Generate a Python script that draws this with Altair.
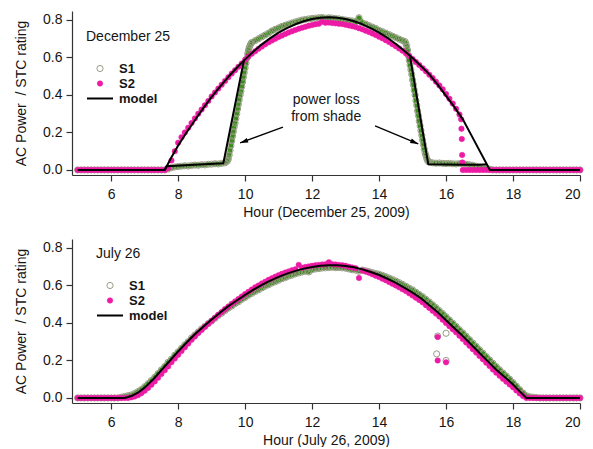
import altair as alt
import pandas as pd

# ---------------------------------------------------------------- data ----
# Logged readings every 6 minutes from 05:00 to 20:00
HOURS = [round(5 + 0.1 * i, 1) for i in range(151)]

# December 25 -- S1 (shaded morning and afternoon)
S1_DEC = [
    0, 0, 0, 0, 0, 0, 0, 0, 0, 0,
    0, 0, 0, 0, 0, 0, 0, 0, 0, 0,
    0, 0, 0, 0, 0, 0, 0, 0.005, 0.012, 0.016,
    0.018, 0.02, 0.022, 0.021, 0.024, 0.026, 0.025, 0.028, 0.027, 0.03,
    0.031, 0.033, 0.032, 0.035, 0.038, 0.06, 0.155, 0.25, 0.35, 0.445,
    0.545, 0.64, 0.68, 0.69, 0.70, 0.71, 0.72, 0.73, 0.742, 0.75,
    0.758, 0.766, 0.772, 0.778, 0.784, 0.79, 0.795, 0.80, 0.803, 0.806,
    0.808, 0.81, 0.812, 0.813, 0.81, 0.812, 0.81, 0.808, 0.806, 0.803,
    0.80, 0.797, 0.795, 0.79, 0.812, 0.785, 0.778, 0.77, 0.762, 0.755,
    0.745, 0.738, 0.73, 0.722, 0.714, 0.706, 0.698, 0.69, 0.675, 0.585,
    0.48, 0.37, 0.26, 0.16, 0.075, 0.042, 0.038, 0.036, 0.037, 0.035,
    0.034, 0.035, 0.033, 0.032, 0.034, 0.031, 0.03, 0.028, 0.025, 0.02,
    0.016, 0.012, 0.008, 0.004, 0, 0, 0, 0, 0, 0,
    0, 0, 0, 0, 0, 0, 0, 0, 0, 0,
    0, 0, 0, 0, 0, 0, 0, 0, 0, 0,
    0,
]
# extra S1 readings on the steep shade edges
S1_DEC_EDGE_H = [
    9.45, 9.475, 9.525, 9.55, 9.575, 9.625, 9.65, 9.675, 9.725, 9.75, 9.775,
    9.825, 9.85, 9.875, 9.925, 9.95, 9.975, 10.025, 10.05, 10.075, 10.125,
    10.15, 10.175,
    14.775, 14.825, 14.85, 14.875, 14.925, 14.95, 14.975, 15.025, 15.05,
    15.075, 15.125, 15.15, 15.175, 15.225, 15.25, 15.275, 15.325, 15.35,
    15.375, 15.425, 15.45, 15.475,
]
S1_DEC_EDGE_V = [
    0.045, 0.05, 0.08, 0.105, 0.13, 0.18, 0.205, 0.23, 0.275, 0.30, 0.325,
    0.375, 0.40, 0.42, 0.47, 0.495, 0.52, 0.57, 0.595, 0.62, 0.655,
    0.665, 0.675,
    0.685, 0.66, 0.64, 0.61, 0.56, 0.535, 0.51, 0.455, 0.425,
    0.40, 0.345, 0.315, 0.29, 0.235, 0.21, 0.185, 0.135, 0.11,
    0.09, 0.06, 0.05, 0.045,
]

# December 25 -- S2 (unshaded until late afternoon)
S2_DEC = [
    0, 0, 0, 0, 0, 0, 0, 0, 0, 0,
    0, 0, 0, 0, 0, 0, 0, 0, 0, 0,
    0, 0, 0, 0, 0, 0, 0, 0.01, 0.05, 0.10,
    0.145, 0.175, 0.2, 0.225, 0.25, 0.275, 0.30, 0.322, 0.345, 0.368,
    0.392, 0.413, 0.434, 0.455, 0.475, 0.495, 0.514, 0.532, 0.55, 0.568,
    0.588, 0.605, 0.62, 0.633, 0.646, 0.658, 0.67, 0.681, 0.691, 0.70,
    0.709, 0.717, 0.725, 0.733, 0.74, 0.747, 0.753, 0.759, 0.764, 0.769,
    0.773, 0.777, 0.78, 0.79, 0.785, 0.786, 0.784, 0.782, 0.78, 0.778,
    0.775, 0.771, 0.767, 0.762, 0.756, 0.75, 0.743, 0.736, 0.728, 0.72,
    0.711, 0.702, 0.692, 0.682, 0.671, 0.66, 0.648, 0.636, 0.622, 0.608,
    0.592, 0.576, 0.56, 0.543, 0.526, 0.508, 0.49, 0.471, 0.451, 0.43,
    0.405, 0.38, 0.354, 0.326, 0.296, 0, 0, 0, 0, 0,
    0, 0, 0, 0, 0, 0, 0, 0, 0, 0,
    0, 0, 0, 0, 0, 0, 0, 0, 0, 0,
    0, 0, 0, 0, 0, 0, 0, 0, 0, 0,
    0,
]
S2_DEC_DROP_H = [16.45, 16.46, 16.47, 16.48, 16.49]
S2_DEC_DROP_V = [0.27, 0.22, 0.165, 0.08, 0.04]

# December 25 -- model, unshaded array
MODEL_DEC_H = [5.0, 7.6, 7.8, 8.0, 8.25, 8.5, 8.75, 9.0, 9.25, 9.5, 9.75,
               10.0, 10.25, 10.5, 10.75, 11.0, 11.25, 11.5, 11.75, 12.0,
               12.25, 12.5, 12.75, 13.0, 13.25, 13.5, 13.75, 14.0, 14.25,
               14.5, 14.75, 15.0, 15.25, 15.5, 15.75, 16.0, 16.25, 16.5,
               16.75, 17.0, 17.31, 20.0]
MODEL_DEC_V = [0, 0, 0.068, 0.13, 0.2, 0.265, 0.33, 0.39, 0.445, 0.497, 0.545,
               0.59, 0.632, 0.67, 0.703, 0.733, 0.757, 0.777, 0.793, 0.805,
               0.812, 0.815, 0.812, 0.805, 0.793, 0.777, 0.757, 0.733, 0.705,
               0.672, 0.636, 0.597, 0.555, 0.51, 0.455, 0.395, 0.335, 0.27,
               0.187, 0.103, 0, 0]
# model with shading, morning and afternoon
SHADE_AM_H = [7.6, 7.65, 8.5, 9.35, 9.97]
SHADE_AM_V = [0, 0.02, 0.028, 0.036, 0.59]
SHADE_PM_H = [14.92, 15.47, 16.0, 16.5, 17.0, 17.22]
SHADE_PM_V = [0.61, 0.03, 0.029, 0.028, 0.028, 0.03]

# July 26 -- S1
S1_JUL = [
    0, 0, 0, 0, 0, 0, 0, 0, 0, 0,
    0, 0, 0, 0.004, 0.008, 0.012, 0.016, 0.024, 0.034, 0.045,
    0.06, 0.076, 0.093, 0.11, 0.13, 0.15, 0.168, 0.19, 0.207, 0.228,
    0.246, 0.265, 0.284, 0.30, 0.32, 0.336, 0.352, 0.368, 0.382, 0.397,
    0.41, 0.425, 0.44, 0.452, 0.466, 0.479, 0.49, 0.503, 0.513, 0.526,
    0.536, 0.548, 0.558, 0.568, 0.577, 0.587, 0.596, 0.604, 0.613, 0.62,
    0.628, 0.636, 0.642, 0.65, 0.655, 0.662, 0.667, 0.672, 0.676, 0.672,
    0.684, 0.688, 0.69, 0.693, 0.694, 0.696, 0.697, 0.695, 0.696, 0.694,
    0.692, 0.688, 0.684, 0.682, 0.676, 0.682, 0.678, 0.674, 0.669, 0.664,
    0.66, 0.654, 0.647, 0.64, 0.632, 0.624, 0.615, 0.606, 0.596, 0.586,
    0.576, 0.564, 0.552, 0.54, 0.526, 0.512, 0.497, 0.482, 0.466, 0.45,
    0.433, 0.416, 0.399, 0.382, 0.364, 0.347, 0.329, 0.311, 0.293, 0.275,
    0.257, 0.239, 0.221, 0.203, 0.185, 0.167, 0.15, 0.133, 0.117, 0.10,
    0.082, 0.063, 0.044, 0.026, 0.012, 0.006, 0.004, 0.002, 0, 0,
    0, 0, 0, 0, 0, 0, 0, 0, 0, 0,
    0,
]
S1_JUL_OUT_H = [15.72, 15.75, 16.0, 16.0]
S1_JUL_OUT_V = [0.235, 0.33, 0.345, 0.20]

# July 26 -- S2
S2_JUL = [
    0, 0, 0, 0, 0, 0, 0, 0, 0, 0,
    0, 0, 0, 0, 0, 0, 0.003, 0.008, 0.015, 0.025,
    0.038, 0.053, 0.07, 0.088, 0.108, 0.128, 0.148, 0.168, 0.19, 0.21,
    0.23, 0.25, 0.27, 0.29, 0.31, 0.328, 0.346, 0.363, 0.38, 0.396,
    0.412, 0.428, 0.444, 0.459, 0.474, 0.488, 0.502, 0.515, 0.528, 0.541,
    0.554, 0.566, 0.578, 0.59, 0.60, 0.611, 0.62, 0.63, 0.638, 0.647,
    0.655, 0.662, 0.669, 0.675, 0.681, 0.686, 0.71, 0.695, 0.699, 0.702,
    0.705, 0.708, 0.71, 0.712, 0.713, 0.724, 0.714, 0.712, 0.71, 0.708,
    0.705, 0.70, 0.696, 0.692, 0.64, 0.68, 0.674, 0.668, 0.66, 0.652,
    0.645, 0.636, 0.628, 0.618, 0.609, 0.60, 0.59, 0.58, 0.57, 0.558,
    0.547, 0.535, 0.522, 0.51, 0.495, 0.48, 0.465, 0.45, 0.434, 0.417,
    0.40, 0.383, 0.366, 0.35, 0.332, 0.314, 0.296, 0.278, 0.26, 0.242,
    0.224, 0.206, 0.188, 0.17, 0.152, 0.135, 0.118, 0.102, 0.087, 0.072,
    0.057, 0.04, 0.024, 0.01, 0, 0, 0, 0, 0, 0,
    0, 0, 0, 0, 0, 0, 0, 0, 0, 0,
    0,
]
S2_JUL_OUT_H = [15.75, 15.75, 16.0]
S2_JUL_OUT_V = [0.325, 0.20, 0.19]

# July 26 -- model
MODEL_JUL_H = [5.0, 6.4, 6.6, 6.8, 7.0, 7.25, 7.5, 7.75, 8.0, 8.25, 8.5, 8.75,
               9.0, 9.25, 9.5, 9.75, 10.0, 10.25, 10.5, 10.75, 11.0, 11.25,
               11.5, 11.75, 12.0, 12.25, 12.5, 12.75, 13.0, 13.25, 13.5,
               13.75, 14.0, 14.25, 14.5, 14.75, 15.0, 15.25, 15.5, 15.75,
               16.0, 16.25, 16.5, 16.75, 17.0, 17.25, 17.5, 17.75, 18.0,
               18.2, 18.4, 20.0]
MODEL_JUL_V = [0, 0, 0.01, 0.028, 0.055, 0.098, 0.148, 0.198, 0.248, 0.295,
               0.34, 0.38, 0.418, 0.455, 0.49, 0.52, 0.55, 0.578, 0.603,
               0.626, 0.646, 0.663, 0.678, 0.69, 0.699, 0.705, 0.708, 0.708,
               0.704, 0.697, 0.686, 0.672, 0.656, 0.636, 0.614, 0.589, 0.562,
               0.532, 0.495, 0.457, 0.415, 0.372, 0.33, 0.285, 0.24, 0.195,
               0.15, 0.112, 0.072, 0.035, 0, 0]

# "power loss from shade" note and its two arrows (December panel)
NOTE_LINES = ["power loss", "from shade"]
NOTE_H = [12.42, 12.42]
NOTE_V = [0.373, 0.283]
ARROW_FROM_H = [11.13, 13.88]
ARROW_FROM_V = [0.229, 0.235]
ARROW_TO_H = [9.85, 15.17]
ARROW_TO_V = [0.144, 0.139]
ARROW_HEADING = [250, 113]

X_TICKS = [6, 8, 10, 12, 14, 16, 18, 20]
Y_TICKS = [0.0, 0.2, 0.4, 0.6, 0.8]
SERIES = ["S1", "S2", "model"]

# --------------------------------------------------------------- style ----
FONT = "Liberation Sans"
MAGENTA = "#ec1aa4"
GREEN = "#3a8a1c"
RING = "#979c84"
INK = "#151515"
W, H = 508, 164
X_DOMAIN = [4.83, 20]
Y_DOMAIN = [-0.027, 0.848]
Y_TITLE = "AC Power\u00a0 / STC rating"


def frame(hours, values, series, curve="main"):
    return pd.DataFrame({"hour": hours, "value": values,
                         "series": series, "curve": curve})


def ord_scale(rng):
    return alt.Scale(type="ordinal", domain=SERIES, range=rng)


def panel(s1, s2, s1_extra, model, day_label, axis_title, legend_xy, notes=None):
    def xenc(field):
        return alt.X(field, type="quantitative",
                     scale=alt.Scale(domain=X_DOMAIN, nice=False, zero=False),
                     axis=alt.Axis(values=X_TICKS, title=axis_title, format="d"))

    def yenc(field):
        return alt.Y(field, type="quantitative",
                     scale=alt.Scale(domain=Y_DOMAIN, nice=False, zero=False),
                     axis=alt.Axis(values=Y_TICKS, format=".1f", title=Y_TITLE))

    x, y = xenc("hour"), yenc("value")
    legend = alt.Legend(
        title=day_label, orient="none", legendX=legend_xy[0],
        legendY=legend_xy[1], padding=0, titleFont=FONT, titleFontSize=14,
        titleFontWeight="normal", titleColor=INK, titlePadding=18,
        labelFont=FONT, labelFontSize=13, labelFontWeight="bold",
        labelColor=INK, labelOffset=5, rowPadding=1, clipHeight=13,
    )
    stroke = alt.Stroke("series:N", legend=legend,
                        scale=ord_scale([RING, MAGENTA, "black"]))
    width = alt.StrokeWidth("series:N", legend=legend,
                            scale=ord_scale([1, 0.5, 2]))

    band = alt.Chart(s1).mark_line(color=GREEN, strokeWidth=4.5,
                                   strokeJoin="round").encode(x=x, y=y)
    pts = alt.Chart(pd.concat([s1, s1_extra, s2])).mark_point(
        opacity=1).encode(
        x=x, y=y,
        shape=alt.Shape("series:N", legend=legend,
                        scale=ord_scale(["circle", "circle", "stroke"])),
        fill=alt.Fill("series:N", legend=legend,
                      scale=ord_scale(["transparent", MAGENTA, "transparent"])),
        stroke=stroke,
        size=alt.Size("series:N", legend=legend, scale=ord_scale([38, 30, 676])),
        strokeWidth=width,
    )
    lines = alt.Chart(model).mark_line(strokeJoin="round").encode(
        x=x, y=y, detail="curve:N", stroke=stroke, strokeWidth=width)
    layers = [band, pts, lines]
    if notes is not None:
        text_df, arrow_df = notes
        layers.append(alt.Chart(text_df).mark_text(
            font=FONT, fontSize=14, color=INK, align="center",
            baseline="middle").encode(x=x, y=y, text="text:N"))
        layers.append(alt.Chart(arrow_df).mark_rule(
            color="black", strokeWidth=1.3).encode(
            x=x, y=y, x2="hour2:Q", y2="value2:Q"))
        layers.append(alt.Chart(arrow_df).mark_point(
            shape="M0,0L0.6,2L-0.6,2Z", filled=True, size=64, opacity=1,
            color="black").encode(
            x=xenc("hour2"), y=yenc("value2"),
            angle=alt.Angle("heading:Q", scale=None)))
    return alt.layer(*layers).properties(width=W, height=H)


# December panel data
s1_dec = frame(HOURS, S1_DEC, "S1")
s1_dec_edge = frame(S1_DEC_EDGE_H, S1_DEC_EDGE_V, "S1")
s1_dec_all = pd.concat([s1_dec, s1_dec_edge]).sort_values("hour")
s2_dec = pd.concat([frame(HOURS, S2_DEC, "S2"),
                    frame(S2_DEC_DROP_H, S2_DEC_DROP_V, "S2")])
model_dec = pd.concat([
    frame(MODEL_DEC_H, MODEL_DEC_V, "model", "clear"),
    frame(SHADE_AM_H, SHADE_AM_V, "model", "shade-am"),
    frame(SHADE_PM_H, SHADE_PM_V, "model", "shade-pm"),
])
note_df = pd.DataFrame({"hour": NOTE_H, "value": NOTE_V, "text": NOTE_LINES})
arrow_df = pd.DataFrame({"hour": ARROW_FROM_H, "value": ARROW_FROM_V,
                         "hour2": ARROW_TO_H, "value2": ARROW_TO_V,
                         "heading": ARROW_HEADING})

# July panel data
s1_jul = frame(HOURS, S1_JUL, "S1")
s1_jul_out = frame(S1_JUL_OUT_H, S1_JUL_OUT_V, "S1")
s2_jul = pd.concat([frame(HOURS, S2_JUL, "S2"),
                    frame(S2_JUL_OUT_H, S2_JUL_OUT_V, "S2")])
model_jul = frame(MODEL_JUL_H, MODEL_JUL_V, "model", "clear")

top = panel(s1_dec_all, s2_dec, s1_dec_all.iloc[0:0], model_dec,
            "December 25", "Hour (December 25, 2009)", (14, 19),
            notes=(note_df, arrow_df))
bottom = panel(s1_jul, s2_jul, s1_jul_out, model_jul,
               "July 26", "Hour (July 26, 2009)", (24, 8))

chans = dict(fill="independent", stroke="independent", shape="independent",
             size="independent", strokeWidth="independent")
chart = (
    alt.vconcat(top, bottom, spacing=20)
    .resolve_scale(x="independent", y="independent", **chans)
    .resolve_legend(**chans)
    .properties(padding={"left": 14, "top": 11, "right": 0, "bottom": 0},
                background="white")
    .configure(font=FONT)
    .configure_view(stroke=None)
    .configure_axis(
        grid=False, domainColor="#333", domainWidth=1.2, tickColor="#333",
        tickWidth=1.2, tickSize=6, labelFont=FONT, labelFontSize=14,
        labelColor=INK, titleFont=FONT, titleFontSize=14,
        titleFontWeight="normal", titleColor=INK,
    )
    .configure_axisX(labelPadding=6, titlePadding=4)
    .configure_axisY(labelPadding=4, titlePadding=14)
)

chart.save("out.html", embed_options={"renderer": "svg", "actions": False})
